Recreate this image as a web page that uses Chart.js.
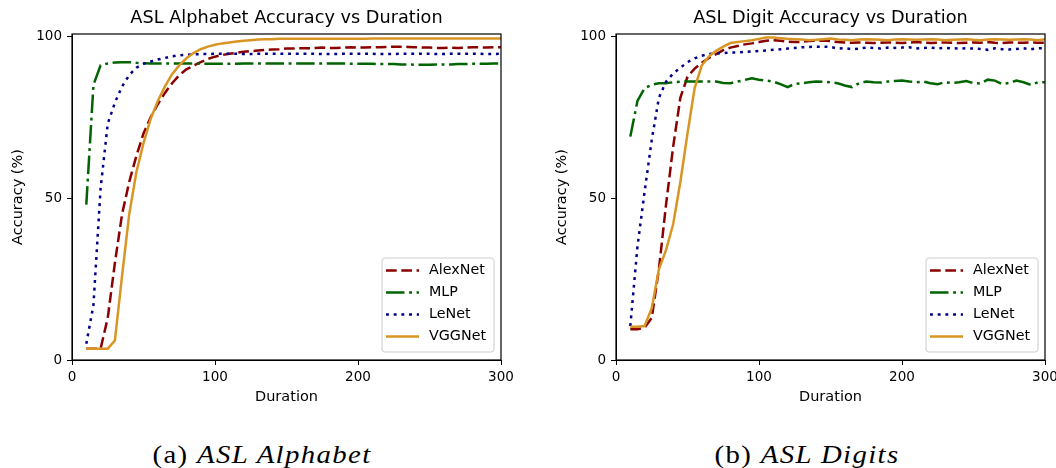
<!DOCTYPE html>
<html>
<head>
<meta charset="utf-8">
<script src="https://cdn.jsdelivr.net/npm/chart.js@4.4.0/dist/chart.umd.min.js"></script>
<style>
  html, body { margin: 0; padding: 0; background: #fff; overflow: hidden; width: 1056px; height: 468px; }
  .panel { position: absolute; top: 0; height: 420px; }
  #panelA { left: 0; width: 528px; }
  #panelB { left: 528px; width: 560px; }
  .caption { position: absolute; top: 442px; width: 400px; text-align: center; line-height: 25px;
             font-family: "Liberation Serif", serif; font-size: 25px; color: #000; white-space: nowrap;
             letter-spacing: 1.2px; transform: scaleX(1.15); transform-origin: center; }
  #capA { left: 62px; }
  #capB { left: 607px; }
</style>
</head>
<body>
<div class="panel" id="panelA"><canvas id="chartA" width="528" height="420"></canvas></div>
<div class="panel" id="panelB"><canvas id="chartB" width="560" height="420"></canvas></div>
<div class="caption" id="capA">(a) <i>ASL Alphabet</i></div>
<div class="caption" id="capB">(b) <i>ASL Digits</i></div>
<script>
// durations 10..300, step 5
var durations = [10,15,20,25,30,35,40,45,50,55,60,65,70,75,80,85,90,95,100,105,110,115,120,125,130,135,140,145,150,155,
                 160,165,170,175,180,185,190,195,200,205,210,215,220,225,230,235,240,245,250,255,260,265,270,275,280,285,290,295,300];

// ASL Alphabet
var alphaAlexNet = [3.5,3.5,3.5,13,30,45,55,63,70,75,79,82.5,85.5,88,89.8,90.9,92,93,93.7,94.2,94.6,94.9,95.2,95.4,95.6,95.8,95.9,96,96.2,96.2,
                    96.3,96.3,96.4,96.5,96.4,96.4,96.5,96.6,96.5,96.5,96.6,96.6,96.7,96.8,96.8,96.7,96.6,96.5,96.5,96.4,96.4,96.5,96.4,96.5,96.6,96.6,96.5,96.6,96.6];
var alphaMLP     = [48,85,91,91.6,91.9,92,92,91.8,91.7,91.6,91.6,91.6,91.6,91.6,91.6,91.6,91.5,91.5,91.5,91.5,91.5,91.5,91.6,91.6,91.6,91.6,91.6,91.6,91.6,91.6,
                    91.6,91.6,91.6,91.6,91.6,91.6,91.6,91.5,91.5,91.5,91.5,91.4,91.4,91.4,91.3,91.3,91.2,91.2,91.2,91.3,91.3,91.3,91.4,91.4,91.5,91.5,91.5,91.6,91.6];
var alphaLeNet   = [5,17,53,73,79.5,84.5,88,90.3,91.5,92.2,92.8,93.3,93.8,94.1,94.3,94.4,94.5,94.5,94.6,94.6,94.6,94.6,94.5,94.5,94.6,94.6,94.6,94.6,94.6,94.6,
                    94.6,94.6,94.6,94.5,94.5,94.5,94.6,94.6,94.6,94.6,94.6,94.5,94.5,94.5,94.6,94.6,94.6,94.6,94.6,94.5,94.5,94.6,94.6,94.6,94.6,94.6,94.5,94.5,94.6];
var alphaVGGNet  = [3.5,3.5,3.5,3.5,6,26,45,58,67,74.5,80,84.5,88.3,91,93.2,94.8,96,96.8,97.4,97.8,98.1,98.4,98.6,98.8,99,99.1,99.1,99.2,99.2,99.2,
                    99.2,99.2,99.2,99.2,99.2,99.2,99.2,99.2,99.2,99.2,99.3,99.3,99.3,99.3,99.3,99.3,99.3,99.3,99.3,99.3,99.3,99.3,99.3,99.3,99.3,99.3,99.3,99.3,99.3];

// ASL Digits
var digitAlexNet = [9.5,9.5,10,13,28,48,66,81,87.5,90,91.8,93.3,94.5,95.7,96.5,97,97.5,97.8,98.2,98.6,98.8,98.6,98.3,98.2,98.3,98.5,98.6,98.7,98.5,98.2,
                    98.1,98,98.1,98,97.9,98,98.1,98,97.9,98,98.2,98,97.9,98,98.1,98,97.9,98,98.1,98,98.2,98,97.9,98.1,98,98,98.1,98,98];
var digitMLP     = [69,80,84,85,85.5,85.5,85.8,86,86,86,86,86,86,85.6,85.5,86,86.5,87,86.6,86.3,86,85.2,84.3,85.3,85.5,85.8,86,85.9,85.8,85.5,
                    84.8,84.3,85.5,86,85.8,85.7,86,86.2,86.3,86,85.8,86,85.5,85.2,85.8,85.6,85.8,86.2,85.5,85.4,86.6,86.3,85.2,85.6,86.3,85.8,85,85.8,85.8];
var digitLeNet   = [10.5,35,52,68,81,86,88.5,90.3,92,93.2,94,94.5,94.7,94.8,95,95,95.2,95.3,95.5,95.6,95.8,96,96.2,96.4,96.6,96.7,96.8,96.8,96.7,96.2,
                    96.3,96,96.2,96.5,96.4,96.2,96.5,96.4,96.5,96.6,96.2,96.4,96.5,96.3,96.4,96.3,96.2,96.3,96.2,96.1,95.8,96.3,96,95.9,96.1,96.3,96,96.3,96.3];
var digitVGGNet  = [10.3,10.3,10.5,16,28,34,42,55,70,84,91,93.8,95.5,96.8,97.9,98.2,98.5,98.8,99.2,99.6,99.6,99.4,99.2,99.1,99,98.8,98.9,99.1,99.3,99,
                    98.9,98.8,99,99.1,99,98.9,98.8,99,99.1,99,98.9,99,99.1,99,98.8,98.9,99,99.1,98.9,98.8,99,99.1,99,98.9,99,99.1,99,98.8,99.1];

var netNames = ['AlexNet', 'MLP', 'LeNet', 'VGGNet'];
var xTickValues = [0, 100, 200, 300];
var yTickValues = [0, 50, 100];

// look of each net (matplotlib-ish)
var netColors = ['#8b0000', '#006400', '#00008b', '#d99524'];
var netDashes = [[10.7, 4.6], [18.5, 4.6, 2.9, 4.6], [2.9, 4.8], []];
var netOrder = [3, 2, 1, 0];

Chart.defaults.font.family = '"DejaVu Sans", sans-serif';
Chart.defaults.font.size = 13.5;
Chart.defaults.color = '#000';

var frameAndTitle = {
  id: 'frameAndTitle',
  afterDatasetsDraw: function (chart, args, opts) {
    var ctx = chart.ctx, a = chart.chartArea;
    ctx.save();
    ctx.strokeStyle = '#000';
    ctx.lineWidth = 1.2;
    ctx.strokeRect(a.left, a.top, a.right - a.left, a.bottom - a.top);
    ctx.fillStyle = '#000';
    ctx.font = '17.7px "DejaVu Sans"';
    ctx.textAlign = 'center';
    ctx.textBaseline = 'middle';
    ctx.fillText(opts.text, (a.left + a.right) / 2, 18);

    // legend box, lower right inside the axes
    var sets = chart.data.datasets;
    var w = 112, h = 94;
    var x0 = a.right - 7 - w, y0 = a.bottom - 8 - h;
    ctx.beginPath();
    ctx.roundRect(x0, y0, w, h, 3);
    ctx.fillStyle = 'rgba(255,255,255,0.8)';
    ctx.fill();
    ctx.strokeStyle = '#cccccc';
    ctx.lineWidth = 1;
    ctx.stroke();
    ctx.font = '14.3px "DejaVu Sans"';
    ctx.textAlign = 'left';
    for (var i = 0; i < sets.length; i++) {
      var cy = y0 + 12.5 + i * 22;
      ctx.beginPath();
      ctx.setLineDash(sets[i].borderDash);
      ctx.strokeStyle = sets[i].borderColor;
      ctx.lineWidth = sets[i].borderWidth;
      ctx.moveTo(x0 + 4, cy);
      ctx.lineTo(x0 + 37, cy);
      ctx.stroke();
      ctx.setLineDash([]);
      ctx.fillStyle = '#000';
      ctx.fillText(sets[i].label, x0 + 47, cy);
    }
    ctx.restore();
  }
};

function makeChart(id, title, series, yAxisWidth, padRight, yTitlePad) {
  var datasets = [];
  for (var i = 0; i < netNames.length; i++) {
    datasets.push({
      label: netNames[i],
      data: durations.map(function (d, j) { return { x: d, y: series[i][j] }; }),
      borderColor: netColors[i],
      borderDash: netDashes[i],
      borderWidth: 2.5,
      borderCapStyle: 'butt',
      pointRadius: 0,
      tension: 0,
      fill: false,
      order: netOrder[i]
    });
  }
  return new Chart(document.getElementById(id), {
    type: 'line',
    data: { datasets: datasets },
    plugins: [frameAndTitle],
    options: {
      responsive: false,
      animation: false,
      layout: { padding: { top: 34, right: padRight, bottom: 0, left: 0 } },
      plugins: {
        legend: { display: false },
        tooltip: { enabled: false },
        frameAndTitle: { text: title }
      },
      scales: {
        x: {
          type: 'linear', min: 0, max: 300,
          afterBuildTicks: function (s) { s.ticks = xTickValues.map(function (v) { return { value: v }; }); },
          afterFit: function (s) { s.height = 60; },
          grid: { drawOnChartArea: false, drawTicks: true, tickLength: 5, color: '#000', tickWidth: 1 },
          border: { display: true, color: '#000' },
          ticks: { padding: 4, maxRotation: 0, color: '#000' },
          title: { display: true, text: 'Duration', color: '#000', font: { size: 14.5 }, padding: { top: 0, bottom: 14.3 } }
        },
        y: {
          type: 'linear', min: 0, max: 100.7,
          afterBuildTicks: function (s) { s.ticks = yTickValues.map(function (v) { return { value: v }; }); },
          afterFit: function (s) { s.width = yAxisWidth; },
          grid: { drawOnChartArea: false, drawTicks: true, tickLength: 5, color: '#000', tickWidth: 1 },
          border: { display: true, color: '#000' },
          ticks: { padding: 5, color: '#000' },
          title: { display: true, text: 'Accuracy (%)', color: '#000', font: { size: 14.5 }, padding: { top: yTitlePad, bottom: 0 } }
        }
      }
    }
  });
}

makeChart('chartA', 'ASL Alphabet Accuracy vs Duration',
          [alphaAlexNet, alphaMLP, alphaLeNet, alphaVGGNet], 72, 27, 9.3);
makeChart('chartB', 'ASL Digit Accuracy vs Duration',
          [digitAlexNet, digitMLP, digitLeNet, digitVGGNet], 88, 43, 25.3);
</script>
</body>
</html>
